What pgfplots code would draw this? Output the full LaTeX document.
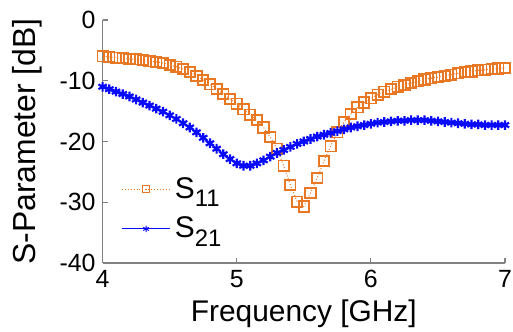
\documentclass[border=0pt]{standalone}
\usepackage{pgfplots}
\pgfplotsset{compat=1.18}
\usepackage{fontspec}
\setmainfont{Liberation Sans}
\definecolor{sorange}{RGB}{232,120,36}
\definecolor{sblue}{RGB}{10,10,250}
\definecolor{axgray}{RGB}{130,130,130}
\newcommand{\sub}[1]{\raisebox{-0.55ex}{\fontsize{12bp}{12bp}\selectfont #1}}
\begin{document}
\begin{tikzpicture}
\begin{axis}[
  at={(0,0)}, anchor=south west,
  scale only axis, width=202bp, height=122bp,
  xmin=4, xmax=7, ymin=-40, ymax=0,
  axis lines*=left,
  axis line style={axgray, line width=0.8bp},
  xtick={4,5,6,7}, xticklabels={4,5,6,7},
  ytick={-40,-30,-20,-10,0}, yticklabels={-40,-30,-20,-10,0},
  tick align=inside, major tick length=2.5bp,
  tick style={axgray, line width=0.6bp},
  ticklabel style={font=\fontsize{12.5bp}{14bp}\selectfont},
  xlabel={Frequency [GHz]}, ylabel={S-Parameter [dB]},
  xlabel style={font=\fontsize{15bp}{17bp}\selectfont, at={(axis description cs:0.5,-0.209)}, anchor=center},
  ylabel style={font=\fontsize{16bp}{18bp}\selectfont, at={(axis description cs:-0.186,0.5)}, anchor=center},
  clip=false,
  legend style={draw=none, fill=none, at={(axis description cs:0.045,0.222)}, anchor=west,
    font=\fontsize{15bp}{17bp}\selectfont, row sep=4bp, inner sep=0pt},
  legend cell align=left,
  legend image code/.code={\draw[mark repeat=2,mark phase=2, mark size=1.6bp, line width=0.5bp, mark options={solid, line width=0.5bp}] plot coordinates {(0bp,0bp) (12.25bp,0bp) (24.5bp,0bp)};},
]
\addplot[sorange, densely dotted, line width=0.5bp, mark=square, mark size=2.6bp,
  mark options={solid, line width=0.9bp}] coordinates {
(4.00,-6.0)(4.05,-6.1)(4.10,-6.2)(4.15,-6.3)(4.20,-6.4)(4.25,-6.5)(4.30,-6.6)
(4.35,-6.8)(4.40,-6.9)(4.45,-7.1)(4.50,-7.4)(4.55,-7.7)(4.60,-8.1)(4.65,-8.6)
(4.70,-9.2)(4.75,-9.9)(4.80,-10.6)(4.85,-11.4)(4.90,-12.2)(4.95,-13.0)(5.00,-13.8)
(5.05,-14.7)(5.10,-15.6)(5.15,-16.5)(5.20,-17.7)(5.25,-19.3)(5.30,-21.2)(5.35,-24.0)
(5.40,-27.2)(5.45,-29.9)(5.50,-30.7)(5.55,-28.5)(5.60,-26.0)(5.65,-23.2)(5.70,-20.8)
(5.75,-18.5)(5.80,-16.8)(5.85,-15.5)(5.90,-14.4)(5.95,-13.6)(6.00,-12.9)(6.05,-12.3)
(6.10,-11.8)(6.15,-11.4)(6.20,-11.0)(6.25,-10.7)(6.30,-10.4)(6.35,-10.1)(6.40,-9.8)
(6.45,-9.6)(6.50,-9.4)(6.55,-9.2)(6.60,-9.0)(6.65,-8.8)(6.70,-8.6)(6.75,-8.5)
(6.80,-8.3)(6.85,-8.2)(6.90,-8.1)(6.95,-8.0)(7.00,-7.9)
};
\addlegendentry{S\sub{11}}
\addplot[sblue, solid, line width=0.8bp, mark=asterisk, mark size=2.4bp,
  mark options={line width=1.1bp}] coordinates {
(4.00,-11.0)(4.05,-11.4)(4.10,-11.8)(4.15,-12.2)(4.20,-12.6)(4.25,-13.1)(4.30,-13.6)
(4.35,-14.1)(4.40,-14.6)(4.45,-15.1)(4.50,-15.7)(4.55,-16.3)(4.60,-17.0)(4.65,-17.7)
(4.70,-18.5)(4.75,-19.4)(4.80,-20.3)(4.85,-21.2)(4.90,-22.1)(4.95,-22.9)(5.00,-23.6)
(5.05,-24.0)(5.10,-24.0)(5.15,-23.6)(5.20,-23.1)(5.25,-22.5)(5.30,-21.9)(5.35,-21.4)
(5.40,-20.9)(5.45,-20.4)(5.50,-20.0)(5.55,-19.6)(5.60,-19.2)(5.65,-18.9)(5.70,-18.6)
(5.75,-18.3)(5.80,-18.0)(5.85,-17.7)(5.90,-17.5)(5.95,-17.3)(6.00,-17.1)(6.05,-16.9)
(6.10,-16.8)(6.15,-16.7)(6.20,-16.6)(6.25,-16.6)(6.30,-16.5)(6.35,-16.5)(6.40,-16.5)
(6.45,-16.6)(6.50,-16.7)(6.55,-16.8)(6.60,-16.9)(6.65,-17.0)(6.70,-17.1)(6.75,-17.2)
(6.80,-17.2)(6.85,-17.3)(6.90,-17.3)(6.95,-17.3)(7.00,-17.3)
};
\addlegendentry{S\sub{21}}
\end{axis}
\pgfresetboundingbox
\useasboundingbox (-51.5bp,-34.5bp) rectangle (206bp,132bp);
\end{tikzpicture}
\end{document}
